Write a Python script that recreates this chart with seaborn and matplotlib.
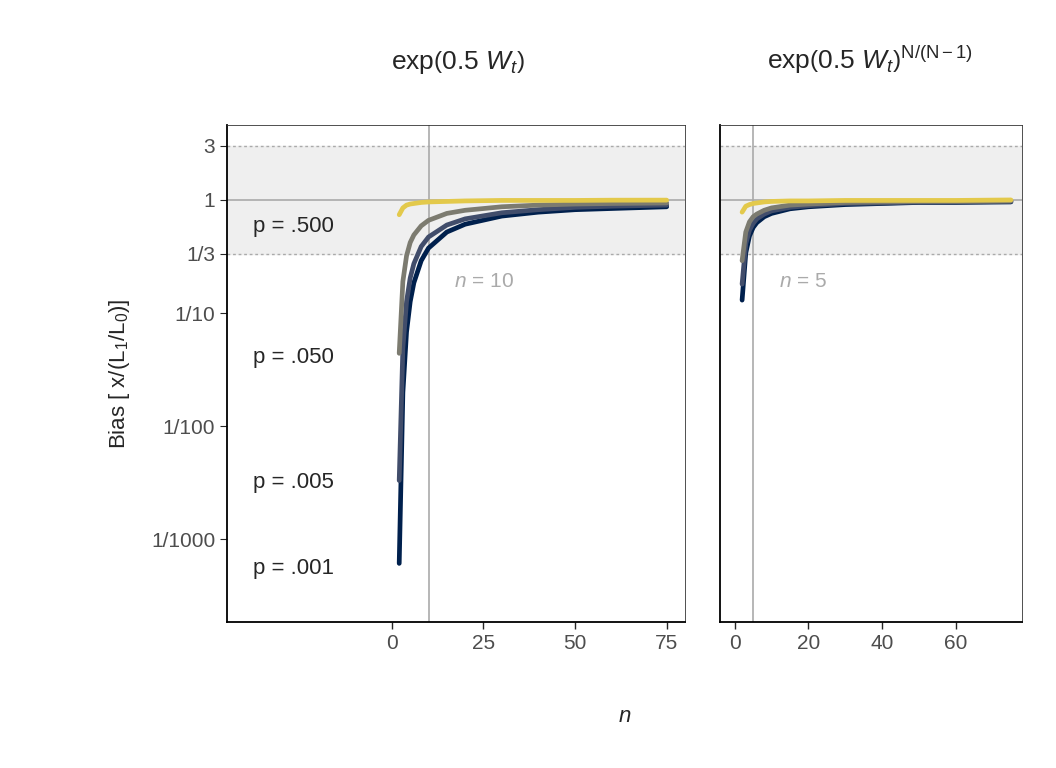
import pandas as pd
import numpy as np
import matplotlib
matplotlib.use("Agg")
import matplotlib.pyplot as plt
import seaborn as sns

n_vals = [2, 3, 4, 5, 6, 8, 10, 15, 20, 30, 40, 50, 60, 75]

# left panel: exp(0.5 W_t)
left_001 = [0.00061, 0.0198, 0.068, 0.126, 0.185, 0.29, 0.375, 0.52, 0.61, 0.72, 0.78, 0.82, 0.84, 0.87]
left_005 = [0.0033, 0.049, 0.126, 0.204, 0.273, 0.387, 0.47, 0.60, 0.68, 0.77, 0.82, 0.86, 0.88, 0.90]
left_050 = [0.044, 0.19, 0.32, 0.42, 0.49, 0.59, 0.66, 0.76, 0.81, 0.87, 0.90, 0.92, 0.93, 0.94]
left_500 = [0.74, 0.85, 0.90, 0.92, 0.93, 0.95, 0.96, 0.97, 0.98, 0.99, 0.99, 0.99, 0.995, 0.996]

# right panel: exp(0.5 W_t)^(N/(N-1))
right_001 = [0.13, 0.34, 0.48, 0.57, 0.63, 0.71, 0.76, 0.835, 0.87, 0.91, 0.93, 0.95, 0.95, 0.96]
right_005 = [0.18, 0.41, 0.54, 0.62, 0.68, 0.75, 0.80, 0.86, 0.89, 0.93, 0.94, 0.955, 0.96, 0.97]
right_050 = [0.29, 0.52, 0.64, 0.71, 0.75, 0.81, 0.85, 0.90, 0.92, 0.95, 0.96, 0.97, 0.97, 0.98]
right_500 = [0.78, 0.88, 0.91, 0.93, 0.94, 0.96, 0.97, 0.98, 0.98, 0.99, 0.99, 0.99, 0.99, 1.0]

p_labels = ["p = .001", "p = .005", "p = .050", "p = .500"]
label_y = [0.00055, 0.0032, 0.04, 0.58]
colors = ["#00204D", "#414D6B", "#7C7B70", "#E3C94B"]
ytick_vals = [3, 1, 1/3, 1/10, 1/100, 1/1000]
ytick_labels = ["3", "1", "1/3", "1/10", "1/100", "1/1000"]

def long_df(series):
    rows = []
    for lab, vals in zip(p_labels, series):
        for n, b in zip(n_vals, vals):
            rows.append({"n": n, "bias": b, "p": lab})
    return pd.DataFrame(rows)

df_left = long_df([left_001, left_005, left_050, left_500])
df_right = long_df([right_001, right_005, right_050, right_500])

sns.set_style("white")
plt.rcParams["font.family"] = ["Liberation Sans", "DejaVu Sans"]
plt.rcParams["mathtext.fontset"] = "custom"
plt.rcParams["mathtext.rm"] = "Liberation Sans"
plt.rcParams["mathtext.it"] = "Liberation Sans:italic"

fig = plt.figure(figsize=(10.56, 7.68), dpi=100)
ax1 = fig.add_axes([227/1056, 1-622/768, (685-227)/1056, (622-125)/768])
ax2 = fig.add_axes([720/1056, 1-622/768, (1022-720)/1056, (622-125)/768])

for ax, df, vline, xlim, xticks, ntxt, tx in [
        (ax1, df_left, 10, (-45, 80), [0, 25, 50, 75], "10", 17),
        (ax2, df_right, 5, (-4, 78), [0, 20, 40, 60], "5", 12)]:
    ax.set_yscale("log")
    ax.set_ylim(1.85e-4, 4.6)
    ax.set_xlim(*xlim)
    ax.axhspan(1/3, 3, color="#EFEFEF", zorder=0)
    ax.axhline(3, color="#AAAAAA", ls=(0, (2, 2)), lw=1)
    ax.axhline(1/3, color="#AAAAAA", ls=(0, (2, 2)), lw=1)
    ax.axhline(1, color="#AAAAAA", lw=1.2)
    ax.axvline(vline, color="#AAAAAA", lw=1.2)
    ax.text(tx, 0.19, "$n$ = " + ntxt, color="#AAAAAA", fontsize=15, va="center")
    sns.lineplot(data=df, x="n", y="bias", hue="p", palette=colors,
                 hue_order=p_labels, lw=3.4, ax=ax, legend=False)
    ax.set_xticks(xticks)
    ax.set_xlabel("")
    ax.set_ylabel("")
    ax.tick_params(axis="x", labelcolor="#4D4D4D", labelsize=15, length=5, width=1, bottom=True)
    for s in ["top", "right"]:
        ax.spines[s].set_color("#333333")
        ax.spines[s].set_linewidth(0.6)
    for s in ["left", "bottom"]:
        ax.spines[s].set_color("black")
        ax.spines[s].set_linewidth(1.3)
    ax.minorticks_off()

ax1.set_yticks(ytick_vals)
ax1.set_yticklabels(ytick_labels)
ax1.tick_params(axis="y", labelsize=15, labelcolor="#4D4D4D", left=True, length=5)
ax2.set_yticks([])
ax2.minorticks_off()

for lab, y in zip(p_labels, label_y):
    ax1.text(-38, y, lab, fontsize=16, va="center")

fig.text(458/1056, 1-62/768, r"exp$\left(0.5\ W_t\right)$", fontsize=19, ha="center", va="center")
fig.text(870/1056, 1-60/768, r"exp$\left(0.5\ W_t\right)^{\mathrm{N/(N-1)}}$", fontsize=19,
         ha="center", va="center")
ax1.set_ylabel(r"Bias [ x/(L$_1$/L$_0$)]", fontsize=16, labelpad=14)
fig.text(625/1056, 1-722/768, "n", style="italic", fontsize=16, ha="center")

fig.savefig("out.png", dpi=100)
